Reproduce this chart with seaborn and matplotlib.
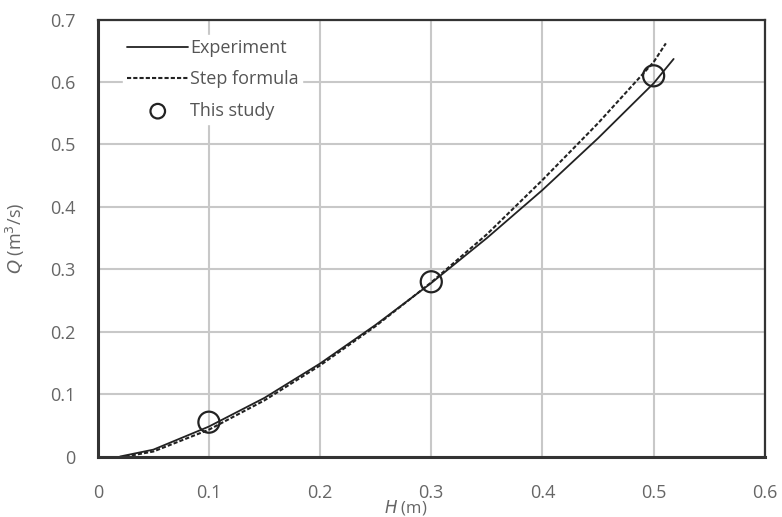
import matplotlib
matplotlib.use("Agg")
import matplotlib.pyplot as plt
import pandas as pd
import seaborn as sns

# Experiment curve (H in m, Q in m3/s)
exp_h = [0.02, 0.05, 0.10, 0.15, 0.20, 0.25, 0.30, 0.35, 0.40, 0.45, 0.50, 0.518]
exp_q = [0.000, 0.011, 0.048, 0.094, 0.149, 0.211, 0.278, 0.350, 0.427, 0.510, 0.598, 0.637]

# Step formula curve
step_h = [0.025, 0.05, 0.10, 0.15, 0.20, 0.25, 0.30, 0.35, 0.40, 0.45, 0.50, 0.511]
step_q = [0.000, 0.008, 0.043, 0.090, 0.146, 0.209, 0.279, 0.356, 0.443, 0.534, 0.632, 0.662]

# This study points
study_h = [0.1, 0.3, 0.5]
study_q = [0.055, 0.28, 0.61]

sns.set_style("white")
plt.rcParams["font.family"] = ["Open Sans", "DejaVu Sans"]

fig, ax = plt.subplots(figsize=(7.82, 5.17), dpi=100)
fig.subplots_adjust(left=0.125, right=0.978, top=0.962, bottom=0.117)

sns.lineplot(x=exp_h, y=exp_q, ax=ax, color="#222222", lw=1.3, label="Experiment")
sns.lineplot(x=step_h, y=step_q, ax=ax, color="#222222", lw=1.5, label="Step formula")
ax.lines[-1].set_dashes([2, 1])
sns.scatterplot(x=study_h, y=study_q, ax=ax, s=230, facecolor="none",
                edgecolor="#222222", linewidth=1.6, label="This study", zorder=5)

ax.set_xlim(0, 0.6)
ax.set_ylim(0, 0.7)
ax.set_xticks([0, 0.1, 0.2, 0.3, 0.4, 0.5, 0.6])
ax.set_xticklabels(["0", "0.1", "0.2", "0.3", "0.4", "0.5", "0.6"])
ax.set_yticks([0, 0.1, 0.2, 0.3, 0.4, 0.5, 0.6, 0.7])
ax.set_yticklabels(["0", "0.1", "0.2", "0.3", "0.4", "0.5", "0.6", "0.7"])
ax.grid(True, color="#c8c8c8", lw=1.5)
ax.set_axisbelow(True)
ax.tick_params(axis="x", length=0, labelsize=13, labelcolor="#666666", pad=20)
ax.tick_params(axis="y", length=0, labelsize=13, labelcolor="#666666", pad=16)

for side in ["left", "bottom", "top", "right"]:
    ax.spines[side].set_visible(True)
    ax.spines[side].set_color("#333333")
ax.spines["left"].set_linewidth(2.2)
ax.spines["bottom"].set_linewidth(2.2)
ax.spines["top"].set_linewidth(1.6)
ax.spines["right"].set_linewidth(1.6)

ax.set_xlabel("$\\mathit{H}$ (m)", fontsize=12, color="#666666")
ax.xaxis.set_label_coords(0.461, -0.095)
ax.set_ylabel("$\\mathit{Q}$ (m$^3$/s)", fontsize=13, color="#666666")
ax.yaxis.set_label_coords(-0.106, 0.5)

leg = ax.legend(loc="upper left", bbox_to_anchor=(0.025, 0.985), frameon=True,
                fontsize=13, handlelength=3.4, handletextpad=0.1,
                labelspacing=0.75, borderpad=0.2)
leg.get_frame().set_edgecolor("white")
leg.get_frame().set_facecolor("white")
leg.get_frame().set_alpha(1)
for t in leg.get_texts():
    t.set_color("#555555")
leg.legend_handles[2].set_sizes([110])

fig.savefig("out.png", dpi=100)
